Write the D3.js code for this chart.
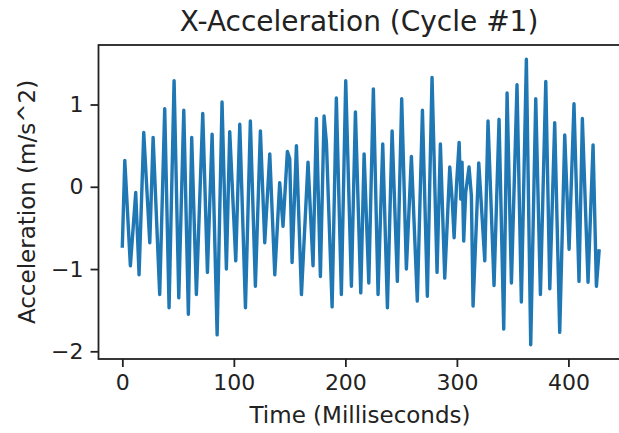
<!DOCTYPE html>
<html>
<head>
<meta charset="utf-8">
<script src="https://cdn.jsdelivr.net/npm/d3@7"></script>
<style>
  html, body { margin: 0; padding: 0; background: #fff; }
  svg { display: block; }
  text { font-family: "DejaVu Sans", sans-serif; fill: #222; }
</style>
</head>
<body>
<svg id="chart" width="619" height="433"></svg>
<script>
// ---- data ----
const timeMs = [0, 2.2, 7.2, 12.0, 15.0, 19.2, 24.6, 27.6, 33.5, 38.0, 41.9, 46.4, 50.6, 55.1, 59.2, 62.2, 66.4, 72.1, 76.3, 80.5, 85.0, 89.4, 93.3, 96.3, 101.7, 105.3, 110.4, 114.8, 119.3, 123.8, 127.7, 132.2, 136.7,
  141.1, 144.1, 148.0, 150.1, 152.2, 156.1, 160.6, 166.5, 171.0, 174.0, 177.6, 180.9, 183.0, 188.1, 191.9, 196.4, 200.3, 205.4, 209.0, 213.8, 216.8, 221.0, 225.1, 229.3, 233.5, 237.7, 241.9, 246.6, 250.5, 254.7, 259.2, 264.5, 269.1, 273.5, 277.7, 282.2, 285.2,
  289.1, 293.6, 295.9, 297.5, 299.6, 302.0, 303.5, 304.6, 306.1, 307.9, 310.9, 313.0, 314.5, 319.6, 325.0, 327.9, 333.3, 337.8, 342.0, 345.0, 348.9, 353.9, 357.8, 362.3, 366.2, 370.7, 374.9, 379.7, 383.3, 387.7, 392.2, 396.7, 400.6, 405.0, 409.5, 412.5, 417.6, 422.1, 425.1, 427.5];
const accel = [-0.72, 0.32, -0.96, -0.07, -1.07, 0.66, -0.68, 0.60, -1.31, 0.95, -1.47, 1.29, -1.35, 0.93, -1.55, 0.60, -1.31, 0.89, -1.04, 0.64, -1.80, 1.03, -1.00, 0.67, -0.90, 0.76, -1.47, 0.80, -1.21, 0.68, -0.68, 0.40, -1.07,
  0.05, -0.48, 0.43, 0.34, -0.92, 0.50, -1.31, 0.30, -0.96, 0.83, -1.09, 0.86, 0.54, -1.46, 1.08, -1.31, 1.29, -1.21, 0.91, -1.29, 0.40, -1.17, 1.19, -1.31, 0.52, -1.47, 0.68, -1.15, 1.07, -1.00, 0.37, -1.39, 0.93, -1.33, 1.33, -1.04, 0.52,
  -1.11, 0.24, -0.19, -0.62, 0.01, 0.54, -0.15, 0.30, -0.66, -0.07, 0.24, -0.11, -1.45, 0.29, -0.90, 0.80, -1.20, 0.82, -1.73, 1.14, -1.17, 1.24, -1.40, 1.55, -1.92, 1.07, -1.31, 1.28, -1.24, 0.78, -1.77, 0.63, -0.76, 1.01, -1.15, 0.83, -1.16, 0.51, -1.21, -0.78];
const xTicks = [0, 100, 200, 300, 400];
const yTicks = [-2, -1, 0, 1];
const titleText = "X-Acceleration (Cycle #1)";
const xLabel = "Time (Milliseconds)";
const yLabel = "Acceleration (m/s^2)";

// ---- layout ----
const svg = d3.select("#chart");
const padL = 98.5, padT = 45, padB = 359;
const pxPerX = 1.1152;
const xMin = d3.min(timeMs), xMax = d3.max(timeMs);
const xm = (xMax - xMin) * 0.05;
const plotW = (xMax - xMin + 2 * xm) * pxPerX;
const yMin = d3.min(accel), yMax = d3.max(accel);
const ym = (yMax - yMin) * 0.05;

const x = d3.scaleLinear().domain([xMin - xm, xMax + xm]).range([padL, padL + plotW]);
const y = d3.scaleLinear().domain([yMin - ym, yMax + ym]).range([padB, padT]);

const data = timeMs.map((t, i) => [t, accel[i]]);

svg.append("defs").append("clipPath").attr("id", "clip")
  .append("rect").attr("x", padL).attr("y", padT).attr("width", plotW).attr("height", padB - padT);

svg.append("path")
  .datum(data)
  .attr("clip-path", "url(#clip)")
  .attr("fill", "none")
  .attr("stroke", "#1f77b4")
  .attr("stroke-width", 3.4)
  .attr("stroke-linejoin", "round")
  .attr("stroke-linecap", "square")
  .attr("d", d3.line().x(d => x(d[0])).y(d => y(d[1])));

const fmt = d => (d < 0 ? "\u2212" + Math.abs(d) : String(d));

const gx = svg.append("g").attr("transform", `translate(0,${padB})`)
  .call(d3.axisBottom(x).tickValues(xTicks).tickFormat(fmt).tickSize(8).tickPadding(7));
const gy = svg.append("g").attr("transform", `translate(${padL},0)`)
  .call(d3.axisLeft(y).tickValues(yTicks).tickFormat(fmt).tickSize(8).tickPadding(7));

[gx, gy].forEach(g => {
  g.select(".domain").remove();
  g.selectAll(".tick line").attr("stroke", "#222").attr("stroke-width", 1.8);
  g.selectAll(".tick text").style("font-size", "22px").attr("fill", "#222");
});

svg.append("rect")
  .attr("x", padL).attr("y", padT).attr("width", plotW).attr("height", padB - padT)
  .attr("fill", "none").attr("stroke", "#222").attr("stroke-width", 1.8);

svg.append("text")
  .attr("x", 359).attr("y", 31)
  .attr("text-anchor", "middle")
  .style("font-size", "28px")
  .text(titleText);

svg.append("text")
  .attr("x", 360).attr("y", 423)
  .attr("text-anchor", "middle")
  .style("font-size", "23px")
  .text(xLabel);

svg.append("text")
  .attr("transform", `translate(35,${(padT + padB) / 2}) rotate(-90)`)
  .attr("text-anchor", "middle")
  .style("font-size", "23px")
  .text(yLabel);
</script>
</body>
</html>
